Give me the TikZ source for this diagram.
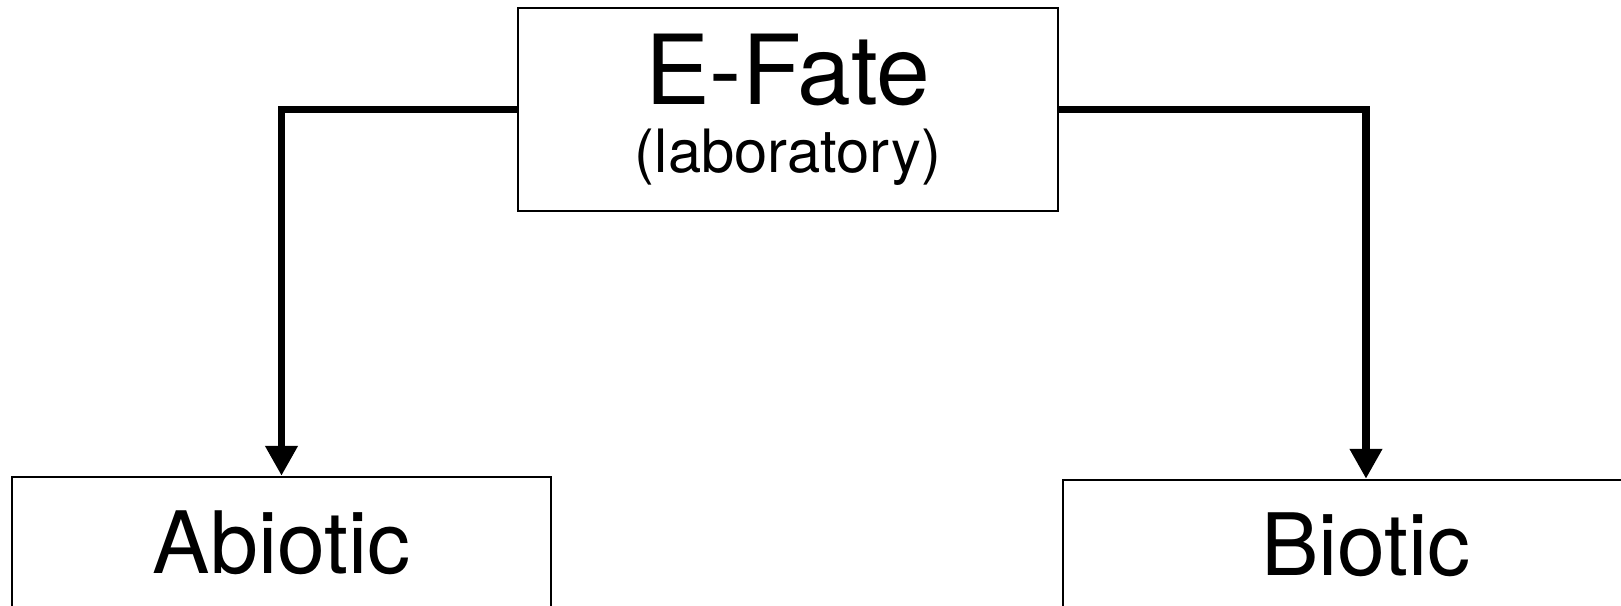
\documentclass[tikz,border=0pt]{standalone}
\usepackage{fontspec}
\setmainfont{TeX Gyre Heros}
\usetikzlibrary{arrows.meta, positioning}

\begin{document}
\begin{tikzpicture}[
    box/.style={rectangle, draw, line width=0.7pt, inner sep=0pt, align=center},
    big/.style={font=\fontsize{24.5}{19.3}\selectfont},
    arr/.style={-{Triangle[width=3.1mm, length=3mm]}, line width=2.1pt},
]
\useasboundingbox (0,0) rectangle (16.21,6.06);
\clip (0,0) rectangle (16.21,6.06);

\node[box, font=\fontsize{27.5}{19.3}\selectfont, minimum width=5.40cm, minimum height=2.03cm] (efate) at (7.88,4.965)
    {E-Fate\\{\fontsize{17}{19.3}\selectfont (laboratory)}};

% lower boxes run off the page edge
\node[box, big, anchor=base, minimum width=5.39cm, text height=0.97cm, text depth=0.6cm] (abiotic) at (2.815,0.32) {Abiotic};
\node[box, big, anchor=base, minimum width=6.06cm, text height=0.96cm, text depth=0.6cm] (biotic) at (13.66,0.30) {Biotic};

\draw[arr] (efate.west) -| (abiotic.north);
\draw[arr] (efate.east) -| (biotic.north);
\end{tikzpicture}
\end{document}
